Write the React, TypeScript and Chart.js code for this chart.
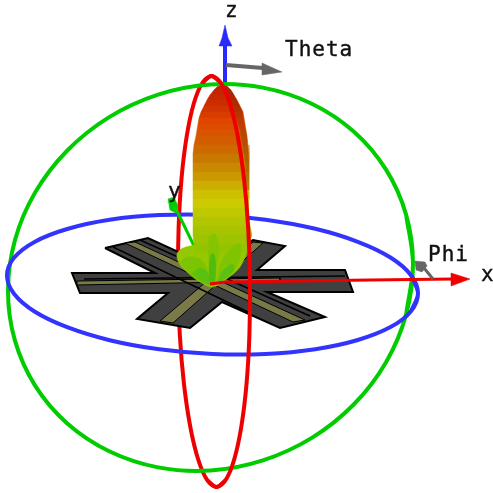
import React, { useEffect, useRef } from "react";
import { Chart, registerables } from "chart.js";

Chart.register(...registerables);

type P = [number, number];

const greenCircle: P[] = [[413,264.1],[406.1,214.6],[385.9,169.4],[353.7,131.5],[311.8,103.7],[262.9,87.6],[210.5,84.5],[158.1,94.6],[109.2,117.1],[67.3,150.5],[35.1,192.6],[14.9,240.4],[8,290.9],[14.9,340.4],[35.1,385.6],[67.3,423.5],[109.2,451.3],[158.1,467.4],[210.5,470.5],[262.9,460.4],[311.8,437.9],[353.7,404.5],[385.9,362.4],[406.1,314.6]];
const blueCircle: P[] = [[418,293.5],[411,275.2],[390.5,257.5],[357.8,241.8],[315.3,228.8],[265.7,219.7],[212.5,215],[159.3,215.1],[109.7,219.8],[67.2,229],[34.5,241.9],[14,257.8],[7,275.5],[14,293.8],[34.5,311.5],[67.2,327.2],[109.7,340.2],[159.3,349.3],[212.5,354],[265.7,353.9],[315.3,349.2],[357.8,340],[390.5,327.1],[411,311.2]];
const redLeftHalf: P[] = [[225.7,480],[216.5,487],[207.1,480],[198.2,459.5],[190.3,426.8],[184,384.3],[179.8,334.7],[178,281.5],[178.6,228.3],[181.5,178.7],[186.7,136.2],[193.8,103.5],[202.3,83],[211.5,76],[220.9,83]];
const redRightHalf: P[] = [[202.3,83],[211.5,76],[220.9,83],[229.8,103.5],[237.7,136.2],[244,178.7],[248.2,228.3],[250,281.5],[249.4,334.7],[246.5,384.3],[241.3,426.8],[234.2,459.5],[225.7,480],[216.5,487],[207.1,480]];

const xAxisLine: P[] = [[210,284],[226,282],[370,280],[455,279]];
const xAxisHead: P[] = [[451,273],[470,279],[451,286]];
const yAxisLine: P[] = [[195,248],[177,211]];
const yAxisHead: P[] = [[168,199],[174,197],[178,206],[176,213],[170,210]];
const zAxisLine: P[] = [[225,90],[225,40]];
const zAxisHead: P[] = [[225,25],[228,38],[232,46],[219,46],[222,38]];
const thetaLine: P[] = [[226,65],[263,68]];
const thetaHead: P[] = [[262,63],[282,72],[262,75]];
const phiLine: P[] = [[424,268],[433,279]];
const phiHead: P[] = [[415,261],[425,262],[427,266],[422,272],[416,270]];

const plate: P[] = [[105,248],[148,238],[200,262],[225,255],[253,240],[285,246],[257,270],[345,270],[353,292],[267,292],[325,317],[280,328],[222,302],[190,328],[137,319],[168,293],[80,293],[72,273],[155,273]];
const stripDown: P[] = [[125,243],[135,242],[305,320],[293,322]];
const stripUp: P[] = [[253,242],[263,243],[173,323],[160,321]];
const stripAcross: P[] = [[77,281],[280,278],[280,281],[77,285]];
const traceA: P[] = [[113,247],[250,313]];
const traceB: P[] = [[140,240],[310,316]];
const traceC: P[] = [[84,279],[345,276]];

const bandY = [85,87,90,95,100,106,112,118,124,130,136,145,154,163,172,181,190,199,208,217,226,235,244,252];
const bandLeft = [223,217,214,210,207,204,201,199,198,197,196,194,193,193,193,193,193,193,193,193,193,193,194,195];
const bandRight = [223,228,231,234,237,240,243,244,245,246,247,248,249,249,249,249,249,249,248,248,250,252,249,248];
const bandColor = ["#bc2000","#c02200","#c42400","#c82800","#cc2c00","#d03400","#d83c00","#e04400","#de4c00","#da5400","#d45c00","#cc6a00","#c87800","#c88800","#cc9800","#ccae00","#ccc000","#ccca00","#c0c800","#b2c600","#a8c400","#9cc400","#92c400"];

const lobeBase: P[] = [[195,245],[183,248],[177,254],[179,263],[188,273],[200,282],[213,287],[228,278],[240,267],[248,249],[249,238],[195,238]];
const petalLeftMid: P[] = [[180,262],[188,257],[198,258],[206,266],[210,284],[200,281],[188,272]];
const petalLeftDark: P[] = [[192,274],[200,268],[207,272],[211,285],[201,281]];
const streakCentre: P[] = [[209,236],[215,234],[219,252],[215,268],[209,262]];
const petalCentre: P[] = [[211,254],[214,254],[216,266],[214,287],[210,282],[209,266]];
const petalRightMid: P[] = [[216,284],[221,262],[232,248],[240,244],[239,262],[228,277]];
const petalRightDark: P[] = [[217,284],[222,272],[232,264],[234,270],[227,277]];
const lobeShade: P[] = [[223,85],[233,93],[242,110],[247,137],[249,163],[249,190],[246,190],[245,160],[240,130],[232,105]];

const labelTexts = ["x", "y", "z", "Theta", "Phi"];
const labelAnchors: P[] = [[481,281],[168,198],[225,17],[285,56],[428,261]];

const LINE = (data: P[], color: string, width: number, tension = 0) => ({
  type: "scatter" as const,
  data: data.map(([x, y]) => ({ x, y })),
  showLine: true,
  fill: false,
  borderColor: color,
  backgroundColor: color,
  borderWidth: width,
  tension,
  pointRadius: 0,
  clip: false as const,
});

const RING = (data: P[], color: string, width: number) =>
  LINE([data[data.length - 1], ...data, data[0], data[1]], color, width, 0.33);

const POLY = (data: P[], color: string, edge = color, width = 0.5, tension = 0) => ({
  ...LINE([...data, data[0]], edge, width, tension),
  fill: "shape" as const,
  backgroundColor: color,
});

const bandPolygons = bandColor.map((color, i) => {
  const midX = (bandLeft[i + 1] + bandRight[i + 1]) / 2;
  return POLY(
    [
      [bandLeft[i], bandY[i]],
      [bandRight[i], bandY[i]],
      [bandRight[i + 1], bandY[i + 1]],
      [midX, bandY[i + 1] + 0.8],
      [bandLeft[i + 1], bandY[i + 1]],
    ],
    color,
  );
});

const textPlugin = {
  id: "axisText",
  afterDatasetsDraw(chart: Chart) {
    const { ctx, scales } = chart;
    ctx.save();
    ctx.fillStyle = "#111111";
    ctx.strokeStyle = "#111111";
    ctx.lineWidth = 0.4;
    ctx.font = '21px "DejaVu Sans Mono"';
    (ctx as any).letterSpacing = "1px";
    ctx.textBaseline = "alphabetic";
    labelTexts.forEach((text, i) => {
      const px = scales.x.getPixelForValue(labelAnchors[i][0]);
      const py = scales.y.getPixelForValue(labelAnchors[i][1]);
      ctx.fillText(text, px, py);
      ctx.strokeText(text, px, py);
    });
    ctx.restore();
  },
};

export default function App() {
  const ref = useRef<HTMLCanvasElement>(null);
  useEffect(() => {
    if (!ref.current) return;
    const layers = [
      LINE(zAxisLine, "#2a2aff", 4),
      POLY(zAxisHead, "#2a2aff"),
      LINE(redLeftHalf, "#ee0000", 4, 0.33),
      RING(greenCircle, "#00cc00", 4),
      RING(blueCircle, "#3333ff", 4),
      POLY(plate, "#404040", "#000000", 2),
      POLY(stripDown, "#7a7a48", "#000000", 1),
      POLY(stripUp, "#7a7a48", "#000000", 1),
      POLY(stripAcross, "#7a7a48", "#000000", 1),
      LINE(traceA, "#000000", 1.5),
      LINE(traceB, "#000000", 1.5),
      LINE(traceC, "#000000", 1.5),
      LINE(yAxisLine, "#00cc00", 3),
      POLY(yAxisHead, "#00cc00"),
      POLY(lobeBase, "#96c800", "#96c800", 0.5, 0.3),
      ...bandPolygons,
      POLY(lobeShade, "rgba(110,40,0,0.3)", "rgba(110,40,0,0)"),
      POLY(streakCentre, "#84c400", "#84c400", 0.5, 0.3),
      POLY(petalLeftMid, "#7cc400", "#7cc400", 0.5, 0.3),
      POLY(petalLeftDark, "#5cc010", "#5cc010", 0.5, 0.3),
      POLY(petalRightMid, "#80c400", "#80c400", 0.5, 0.3),
      POLY(petalRightDark, "#5cc010", "#5cc010", 0.5, 0.3),
      POLY(petalCentre, "#50bc10", "#50bc10", 0.5, 0.2),
      LINE(redRightHalf, "#ee0000", 4, 0.33),
      LINE(xAxisLine, "#ee0000", 3),
      POLY(xAxisHead, "#ee0000"),
      LINE(thetaLine, "#666666", 4),
      POLY(thetaHead, "#666666"),
      LINE(phiLine, "#666666", 3),
      POLY(phiHead, "#666666"),
    ].map((d, i) => ({ ...d, order: -i }));

    const chart = new Chart(ref.current, {
      type: "scatter",
      data: { datasets: layers as any },
      plugins: [textPlugin],
      options: {
        animation: false,
        responsive: false,
        layout: { padding: 0 },
        plugins: { legend: { display: false }, tooltip: { enabled: false }, title: { display: false } },
        scales: {
          x: { type: "linear", min: 0, max: 493, display: false },
          y: { type: "linear", min: 0, max: 493, reverse: true, display: false },
        },
      },
    });
    return () => chart.destroy();
  }, []);
  return (
    <div style={{ position: "fixed", left: 0, top: 0, width: 493, height: 493, background: "#ffffff" }}>
      <canvas ref={ref} width={493} height={493} style={{ display: "block" }} />
    </div>
  );
}
